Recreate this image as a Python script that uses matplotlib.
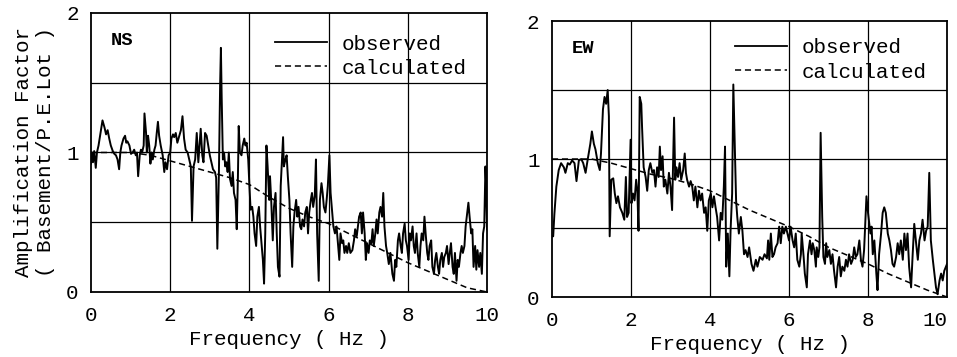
import matplotlib
matplotlib.use("Agg")
import matplotlib.pyplot as plt
from matplotlib.lines import Line2D

plt.rcParams['font.family'] = ['Liberation Mono', 'DejaVu Sans Mono']

# ---------------- data ----------------
ns_freq = [0.00, 0.02, 0.05, 0.08, 0.12, 0.15, 0.19, 0.24, 0.29, 0.34, 0.38, 0.42, 0.46, 0.50, 0.55, 0.59, 0.63, 0.67, 0.71, 0.74,
           0.77, 0.82, 0.86, 0.89, 0.92, 0.97, 1.01, 1.05, 1.09, 1.13, 1.16, 1.19, 1.23, 1.26, 1.29, 1.33, 1.35, 1.39, 1.41, 1.44,
           1.47, 1.50, 1.53, 1.56, 1.60, 1.63, 1.66, 1.69, 1.72, 1.76, 1.81, 1.85, 1.88, 1.92, 1.96, 2.00, 2.03, 2.07, 2.10, 2.14,
           2.18, 2.23, 2.27, 2.31, 2.35, 2.39, 2.44, 2.48, 2.52, 2.55, 2.59, 2.63, 2.67, 2.71, 2.74, 2.77, 2.81, 2.84, 2.88, 2.92,
           2.96, 3.00, 3.04, 3.08, 3.13, 3.16, 3.19, 3.23, 3.26, 3.28, 3.30, 3.33, 3.36, 3.39, 3.42, 3.45, 3.48, 3.51, 3.55, 3.58,
           3.61, 3.65, 3.68, 3.71, 3.73, 3.76, 3.80, 3.83, 3.87, 3.90, 3.93, 3.97, 4.00, 4.03, 4.07, 4.10, 4.13, 4.17, 4.20, 4.24,
           4.27, 4.30, 4.34, 4.37, 4.40, 4.43, 4.46, 4.50, 4.52, 4.55, 4.59, 4.62, 4.66, 4.69, 4.72, 4.76, 4.79, 4.82, 4.85, 4.87,
           4.91, 4.94, 4.97, 5.01, 5.04, 5.08, 5.11, 5.14, 5.18, 5.21, 5.24, 5.28, 5.31, 5.34, 5.38, 5.41, 5.45, 5.48, 5.51, 5.55,
           5.58, 5.61, 5.65, 5.68, 5.71, 5.75, 5.78, 5.82, 5.85, 5.88, 5.92, 5.95, 5.98, 6.02, 6.05, 6.08, 6.12, 6.16, 6.20, 6.24,
           6.27, 6.30, 6.34, 6.37, 6.40, 6.44, 6.47, 6.51, 6.55, 6.60, 6.64, 6.67, 6.71, 6.74, 6.77, 6.81, 6.84, 6.87, 6.91, 6.94,
           6.97, 7.01, 7.04, 7.08, 7.11, 7.14, 7.18, 7.21, 7.24, 7.28, 7.31, 7.35, 7.38, 7.41, 7.45, 7.48, 7.52, 7.56, 7.61, 7.65,
           7.68, 7.71, 7.75, 7.78, 7.82, 7.85, 7.88, 7.92, 7.95, 7.98, 8.02, 8.05, 8.08, 8.12, 8.15, 8.18, 8.22, 8.25, 8.29, 8.32,
           8.35, 8.39, 8.42, 8.45, 8.49, 8.52, 8.55, 8.59, 8.62, 8.66, 8.69, 8.72, 8.76, 8.79, 8.82, 8.86, 8.89, 8.92, 8.96, 8.99,
           9.03, 9.06, 9.09, 9.13, 9.16, 9.19, 9.23, 9.26, 9.29, 9.33, 9.36, 9.39, 9.43, 9.46, 9.50, 9.53, 9.56, 9.60, 9.63, 9.66,
           9.70, 9.73, 9.76, 9.80, 9.83, 9.87, 9.90, 9.93, 9.96, 9.98, 10.00]
ns_obs = [0.92, 1.00, 0.93, 1.01, 0.89, 1.00, 1.05, 1.14, 1.23, 1.18, 1.13, 1.16, 1.10, 1.05, 1.01, 0.99, 0.98, 0.95, 0.88, 1.00,
          1.05, 1.10, 1.12, 1.07, 1.08, 1.05, 0.99, 1.00, 1.02, 0.98, 1.00, 0.83, 0.98, 1.02, 1.00, 1.05, 1.28, 1.14, 1.00, 1.12,
          1.05, 0.92, 1.00, 0.95, 1.02, 1.05, 1.14, 1.22, 1.12, 1.05, 0.98, 0.86, 0.93, 0.88, 0.98, 1.00, 1.10, 1.13, 1.11, 1.14,
          1.07, 1.12, 1.16, 1.26, 1.10, 1.02, 1.00, 0.95, 0.90, 0.51, 0.90, 0.95, 1.14, 0.93, 1.05, 1.17, 0.98, 0.93, 1.14, 1.12,
          1.05, 0.98, 0.93, 0.88, 0.86, 0.82, 0.31, 0.86, 1.48, 1.75, 1.39, 0.95, 1.00, 0.90, 0.93, 0.86, 1.00, 0.81, 0.76, 0.86,
          0.71, 0.66, 0.45, 0.83, 1.19, 1.00, 0.98, 1.05, 1.10, 1.05, 1.07, 0.95, 0.76, 0.59, 0.61, 0.54, 0.42, 0.33, 0.54, 0.61,
          0.47, 0.37, 0.23, 0.06, 0.42, 1.05, 0.90, 0.66, 0.83, 0.66, 0.37, 0.61, 0.71, 0.42, 0.18, 0.11, 0.76, 0.93, 1.11, 0.90,
          0.95, 0.98, 0.83, 0.66, 0.42, 0.18, 0.47, 0.57, 0.66, 0.54, 0.61, 0.47, 0.45, 0.52, 0.47, 0.57, 0.61, 0.42, 0.57, 0.66,
          0.71, 0.61, 0.69, 0.95, 0.42, 0.08, 0.66, 0.78, 0.71, 0.61, 0.57, 0.66, 0.76, 0.98, 0.71, 0.61, 0.47, 0.42, 0.47, 0.33,
          0.23, 0.42, 0.35, 0.37, 0.28, 0.33, 0.28, 0.35, 0.28, 0.30, 0.37, 0.45, 0.40, 0.47, 0.54, 0.57, 0.42, 0.57, 0.42, 0.23,
          0.35, 0.28, 0.37, 0.35, 0.45, 0.33, 0.42, 0.52, 0.42, 0.57, 0.61, 0.54, 0.71, 0.47, 0.33, 0.28, 0.20, 0.28, 0.13, 0.08,
          0.23, 0.18, 0.37, 0.42, 0.33, 0.28, 0.42, 0.49, 0.37, 0.33, 0.23, 0.42, 0.37, 0.47, 0.33, 0.28, 0.42, 0.28, 0.18, 0.33,
          0.42, 0.37, 0.54, 0.42, 0.28, 0.23, 0.33, 0.37, 0.18, 0.13, 0.23, 0.28, 0.18, 0.13, 0.23, 0.28, 0.18, 0.25, 0.28, 0.33,
          0.20, 0.28, 0.35, 0.18, 0.13, 0.28, 0.08, 0.23, 0.18, 0.28, 0.33, 0.28, 0.33, 0.47, 0.57, 0.64, 0.54, 0.42, 0.45, 0.18,
          0.33, 0.16, 0.30, 0.18, 0.28, 0.13, 0.42, 0.47, 0.90, 0.76, 0.45]

ns_calc_freq = [0.0, 1.0, 1.5, 2.0, 2.5, 3.0, 3.5, 4.0, 4.5, 5.0, 5.5, 6.0, 6.5, 7.0, 7.5, 8.0, 8.5, 9.0, 9.5, 10.0]
ns_calc = [1.0, 1.0, 0.98, 0.94, 0.90, 0.86, 0.82, 0.77, 0.68, 0.60, 0.54, 0.49, 0.42, 0.35, 0.28, 0.21, 0.15, 0.09, 0.03, 0.0]

ew_freq = [0.00, 0.03, 0.06, 0.11, 0.17, 0.23, 0.30, 0.34, 0.40, 0.45, 0.51, 0.57, 0.62, 0.68, 0.74, 0.79, 0.85, 0.90, 0.97, 1.01,
           1.06, 1.10, 1.16, 1.21, 1.24, 1.29, 1.33, 1.37, 1.41, 1.44, 1.46, 1.50, 1.55, 1.59, 1.63, 1.67, 1.72, 1.78, 1.83, 1.87,
           1.90, 1.94, 1.99, 2.01, 2.05, 2.09, 2.13, 2.16, 2.19, 2.22, 2.26, 2.28, 2.32, 2.37, 2.41, 2.45, 2.49, 2.54, 2.58, 2.62,
           2.66, 2.70, 2.73, 2.76, 2.80, 2.83, 2.87, 2.92, 2.96, 3.00, 3.04, 3.09, 3.12, 3.15, 3.19, 3.23, 3.27, 3.32, 3.36, 3.39,
           3.42, 3.47, 3.51, 3.55, 3.59, 3.63, 3.68, 3.72, 3.76, 3.80, 3.85, 3.89, 3.93, 3.97, 4.02, 4.06, 4.10, 4.14, 4.18, 4.23,
           4.27, 4.31, 4.35, 4.38, 4.41, 4.45, 4.49, 4.52, 4.56, 4.59, 4.62, 4.66, 4.69, 4.73, 4.78, 4.82, 4.86, 4.90, 4.95, 4.99,
           5.05, 5.10, 5.16, 5.20, 5.26, 5.33, 5.38, 5.44, 5.47, 5.50, 5.54, 5.58, 5.62, 5.66, 5.71, 5.75, 5.79, 5.83, 5.87, 5.92,
           5.96, 6.00, 6.04, 6.09, 6.13, 6.17, 6.21, 6.26, 6.30, 6.32, 6.37, 6.40, 6.45, 6.48, 6.53, 6.57, 6.60, 6.64, 6.68, 6.70,
           6.74, 6.77, 6.80, 6.84, 6.87, 6.91, 6.94, 6.97, 7.02, 7.06, 7.10, 7.14, 7.19, 7.23, 7.27, 7.31, 7.35, 7.40, 7.44, 7.48,
           7.52, 7.57, 7.61, 7.65, 7.69, 7.73, 7.78, 7.82, 7.86, 7.90, 7.96, 8.00, 8.06, 8.09, 8.12, 8.16, 8.21, 8.24, 8.28, 8.33,
           8.37, 8.41, 8.45, 8.50, 8.54, 8.58, 8.62, 8.66, 8.71, 8.75, 8.79, 8.83, 8.88, 8.92, 8.96, 9.00, 9.04, 9.09, 9.13, 9.17,
           9.21, 9.26, 9.30, 9.34, 9.38, 9.43, 9.47, 9.51, 9.55, 9.59, 9.64, 9.68, 9.72, 9.76, 9.81, 9.85, 9.89, 9.93, 10.00]
ew_obs = [0.44, 0.44, 0.60, 0.80, 0.92, 0.97, 0.94, 0.90, 0.97, 0.96, 0.99, 0.97, 0.84, 0.99, 1.00, 0.97, 0.90, 0.99, 1.11, 1.20,
          1.11, 1.07, 0.97, 0.92, 1.04, 1.36, 1.45, 1.40, 1.50, 1.31, 0.44, 0.85, 0.86, 0.75, 0.68, 0.73, 0.65, 0.61, 0.56, 0.87,
          0.58, 0.61, 1.14, 0.68, 0.75, 0.70, 0.85, 0.77, 0.48, 1.45, 1.40, 1.23, 0.94, 0.87, 0.77, 0.92, 0.97, 0.90, 0.92, 0.80,
          0.94, 0.87, 1.09, 0.92, 1.02, 0.80, 0.85, 0.75, 0.90, 0.80, 0.63, 1.30, 0.85, 0.94, 0.87, 0.97, 0.85, 0.92, 1.04, 0.90,
          0.85, 0.80, 0.84, 0.80, 0.70, 0.80, 0.65, 0.77, 0.70, 0.75, 0.61, 0.65, 0.48, 0.70, 0.75, 0.65, 0.73, 0.65, 0.58, 0.41,
          0.61, 0.56, 0.80, 1.09, 0.22, 0.46, 0.15, 0.48, 0.75, 1.54, 1.19, 0.70, 0.58, 0.46, 0.58, 0.48, 0.31, 0.34, 0.29, 0.36,
          0.24, 0.19, 0.27, 0.22, 0.29, 0.27, 0.31, 0.28, 0.41, 0.27, 0.46, 0.29, 0.31, 0.36, 0.39, 0.51, 0.39, 0.51, 0.46, 0.51,
          0.46, 0.41, 0.51, 0.41, 0.36, 0.46, 0.27, 0.22, 0.31, 0.46, 0.29, 0.17, 0.07, 0.31, 0.41, 0.31, 0.39, 0.34, 0.22, 0.36,
          0.29, 0.36, 1.19, 0.58, 0.29, 0.24, 0.39, 0.29, 0.34, 0.24, 0.31, 0.19, 0.07, 0.22, 0.29, 0.15, 0.22, 0.19, 0.27, 0.22,
          0.31, 0.24, 0.27, 0.36, 0.29, 0.31, 0.41, 0.27, 0.22, 0.34, 0.73, 0.61, 0.46, 0.51, 0.31, 0.41, 0.17, 0.05, 0.31, 0.46,
          0.61, 0.65, 0.61, 0.46, 0.41, 0.34, 0.24, 0.22, 0.29, 0.39, 0.31, 0.41, 0.27, 0.46, 0.34, 0.46, 0.22, 0.07, 0.31, 0.53,
          0.41, 0.27, 0.41, 0.46, 0.56, 0.41, 0.48, 0.51, 0.90, 0.41, 0.27, 0.17, 0.07, 0.02, 0.12, 0.17, 0.12, 0.19, 0.24]

ew_calc_freq = [0.0, 1.0, 1.5, 2.0, 2.5, 3.0, 3.5, 4.0, 4.5, 5.0, 5.5, 6.0, 6.5, 7.0, 7.5, 8.0, 8.5, 9.0, 9.5, 10.0]
ew_calc = [1.0, 1.0, 0.97, 0.93, 0.89, 0.86, 0.82, 0.77, 0.70, 0.63, 0.57, 0.51, 0.44, 0.36, 0.30, 0.24, 0.17, 0.11, 0.05, 0.0]

x_ticks = [0, 2, 4, 6, 8, 10]
y_ticks = [0, 1, 2]
y_grid = [0.5, 1.0, 1.5]
x_label = "Frequency ( Hz )"
y_label = "Amplification Factor\n( Basement/P.E.Lot )"
legend_labels = ["observed", "calculated"]
panel_names = ["NS", "EW"]

# ---------------- figure ----------------
FS = 15
fig = plt.figure(figsize=(9.57, 3.57), dpi=100)
ax1 = fig.add_axes([0.0951, 0.1821, 0.4138, 0.7815])
ax2 = fig.add_axes([0.5768, 0.1680, 0.4128, 0.7731])

panels = [
    (ax1, ns_freq, ns_obs, ns_calc_freq, ns_calc, panel_names[0], 0.975),
    (ax2, ew_freq, ew_obs, ew_calc_freq, ew_calc, panel_names[1], 0.99),
]

for ax, f, obs, cf, calc, name, ly in panels:
    ax.set_xlim(0, 10)
    ax.set_ylim(0, 2)
    for gx in x_ticks[1:-1]:
        ax.axvline(gx, color='black', lw=0.9, zorder=1)
    for gy in y_grid:
        ax.axhline(gy, color='black', lw=0.9, zorder=1)
    ax.plot(cf, calc, color='black', lw=1.1, dashes=(4, 2.5), zorder=2)
    ax.plot(f, obs, color='black', lw=1.4, zorder=3)
    ax.set_xticks(x_ticks)
    ax.set_yticks(y_ticks)
    ax.set_xticklabels([str(t) for t in x_ticks])
    ax.set_yticklabels([str(t) for t in y_ticks])
    ax.tick_params(length=0, labelsize=FS, pad=10)
    ax.tick_params(axis='y', pad=9)
    for s in ax.spines.values():
        s.set_linewidth(1.3)
    ax.set_xlabel(x_label, fontsize=FS, labelpad=4)
    ax.text(0.05, 0.9, name, transform=ax.transAxes, fontsize=13.5,
            fontweight='bold', va='center', ha='left')
    handles = [Line2D([], [], color='black', lw=1.3),
               Line2D([], [], color='black', lw=1.1, dashes=(4, 2.5))]
    ax.legend(handles, legend_labels, loc='upper right', frameon=False,
              fontsize=FS, handlelength=2.5, handletextpad=0.7,
              labelspacing=0.25, borderaxespad=0.3,
              bbox_to_anchor=(0.985, ly))

# keep the last tick label of the right panel inside the figure
ax2.get_xticklabels()[-1].set_horizontalalignment('right')
ax2.get_xticklabels()[-1].set_x(10)

ax1.set_ylabel(y_label, fontsize=FS, labelpad=8, linespacing=1.2)

fig.savefig("out.png", dpi=100)
